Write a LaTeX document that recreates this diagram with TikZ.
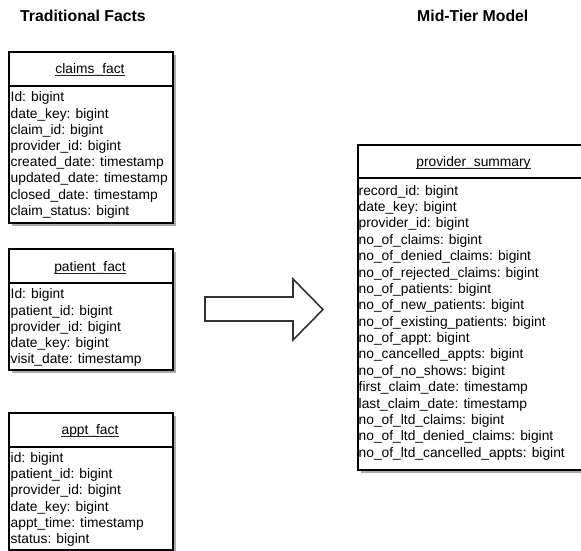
\documentclass[tikz,border=0pt]{standalone}
\usepackage{fontspec}
\setmainfont{Liberation Sans}
\begin{document}
\begin{tikzpicture}[x=1pt,y=-1pt,
  tablebox/.style={draw=black,line width=2pt,fill=white,inner sep=0pt,anchor=north west},
  shadowbox/.style={fill=black!33,draw=none},
  divider/.style={line width=2pt},
  heading/.style={anchor=base west,inner sep=0pt,font=\fontsize{15.8}{18}\selectfont\bfseries},
  tabletitle/.style={anchor=base,inner sep=0pt,font=\fontsize{13.8}{16}\selectfont},
  titleline/.style={line width=0.8pt,black!85},
  field/.style={anchor=base west,inner sep=0pt,font=\fontsize{13.8}{16}\selectfont},
  bigarrow/.style={draw=black!80,line width=1.6pt,fill=white,line join=miter}
]
\useasboundingbox (0,0) rectangle (581,550);

% column headings
\node[heading] (trad) at (20,21) {Traditional Facts};
\node[heading] (mid) at (417,21) {Mid-Tier Model};

% ---------- claims_fact ----------
\fill[shadowbox] (12,55) rectangle (176,226);
\node[tablebox,minimum width=164pt,minimum height=171pt] (claims) at (8,51) {};
\draw[divider] (8,86) -- (172,86);
\node[tabletitle] (claims-title) at (90,73.5) {claims\_fact};
\draw[titleline] ([yshift=-2pt]claims-title.base west) -- ([yshift=-2pt]claims-title.base east);
\foreach \f [count=\i from 0] in {Id: bigint, date\_key: bigint, claim\_id: bigint,
    provider\_id: bigint, created\_date: timestamp, updated\_date: timestamp,
    closed\_date: timestamp, claim\_status: bigint}
  \node[field] (claims-\i) at (10.5,101.8+16.2*\i) {\f};

% ---------- patient_fact ----------
\fill[shadowbox] (12,252) rectangle (176,373);
\node[tablebox,minimum width=164pt,minimum height=121pt] (patient) at (8,248) {};
\draw[divider] (8,283) -- (172,283);
\node[tabletitle] (patient-title) at (90,271) {patient\_fact};
\draw[titleline] ([yshift=-2pt]patient-title.base west) -- ([yshift=-2pt]patient-title.base east);
\foreach \f [count=\i from 0] in {Id: bigint, patient\_id: bigint, provider\_id: bigint,
    date\_key: bigint, visit\_date: timestamp}
  \node[field] (patient-\i) at (10.5,298.8+16.25*\i) {\f};

% ---------- appt_fact ----------
\fill[shadowbox] (12,416) rectangle (176,553);
\node[tablebox,minimum width=164pt,minimum height=137pt] (appt) at (8,412) {};
\draw[divider] (8,447) -- (172,447);
\node[tabletitle] (appt-title) at (90,434.5) {appt\_fact};
\draw[titleline] ([yshift=-2pt]appt-title.base west) -- ([yshift=-2pt]appt-title.base east);
\foreach \f [count=\i from 0] in {id: bigint, patient\_id: bigint, provider\_id: bigint,
    date\_key: bigint, appt\_time: timestamp, status: bigint}
  \node[field] (appt-\i) at (10.5,462.2+16.27*\i) {\f};

% ---------- transformation arrow ----------
\draw[bigarrow] (205,297) -- (293,297) -- (293,279) -- (323,309.5)
  -- (293,340) -- (293,321) -- (205,321) -- cycle;

% ---------- provider_summary ----------
\fill[shadowbox] (361,148) rectangle (594,473);
\node[tablebox,minimum width=233pt,minimum height=325pt] (provider) at (357,144) {};
\draw[divider] (357,178) -- (590,178);
\node[tabletitle] (provider-title) at (473.5,166) {provider\_summary};
\draw[titleline] ([yshift=-2pt]provider-title.base west) -- ([yshift=-2pt]provider-title.base east);
\foreach \f [count=\i from 0] in {record\_id: bigint, date\_key: bigint, provider\_id: bigint,
    no\_of\_claims: bigint, no\_of\_denied\_claims: bigint, no\_of\_rejected\_claims: bigint,
    no\_of\_patients: bigint, no\_of\_new\_patients: bigint, no\_of\_existing\_patients: bigint,
    no\_of\_appt: bigint, no\_cancelled\_appts: bigint, no\_of\_no\_shows: bigint,
    first\_claim\_date: timestamp, last\_claim\_date: timestamp, no\_of\_ltd\_claims: bigint,
    no\_of\_ltd\_denied\_claims: bigint, no\_of\_ltd\_cancelled\_appts: bigint}
  \node[field] (provider-\i) at (358.5,195.2+16.37*\i) {\f};
\end{tikzpicture}
\end{document}
